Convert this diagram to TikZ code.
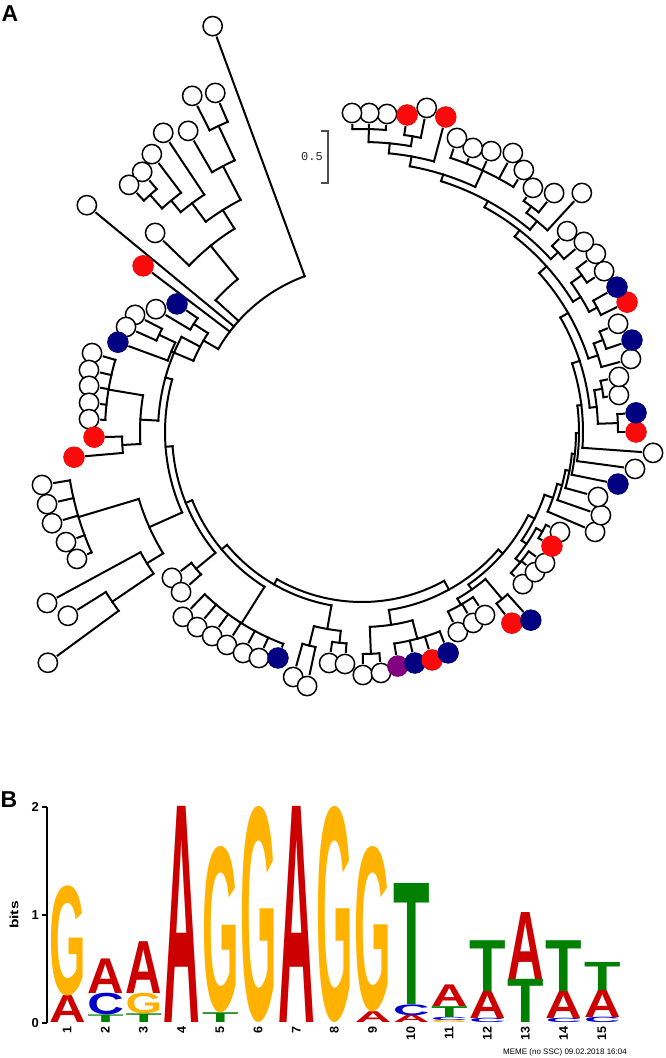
\documentclass[tikz,border=0pt]{standalone}
\usepackage{fontspec}
\setsansfont{Liberation Sans}
\setmonofont{Liberation Mono}
\newfontfamily\logofont{Liberation Sans}

\definecolor{tipred}{RGB}{250,10,10}
\definecolor{tipblue}{RGB}{0,0,128}
\definecolor{tippurple}{RGB}{128,0,128}
\definecolor{baseA}{RGB}{204,0,0}
\definecolor{baseC}{RGB}{0,0,204}
\definecolor{baseG}{RGB}{255,179,0}
\definecolor{baseT}{RGB}{0,128,0}

\tikzset{
  tip/.style={circle, draw=black, fill=white, line width=1.5pt, minimum size=19.3pt, inner sep=0pt, outer sep=2.5pt},
  branch/.style={line width=2pt, line cap=rect},
  panel/.style={font=\sffamily\bfseries\fontsize{23}{23}\selectfont, inner sep=0pt},
  numlbl/.style={rotate=90, anchor=east, inner sep=0pt, font=\sffamily\bfseries\fontsize{12.5}{12.5}\selectfont},
  ticklbl/.style={anchor=east, inner sep=0pt, font=\sffamily\bfseries\fontsize{13}{13}\selectfont},
}

\begin{document}
\begin{tikzpicture}[x=1pt,y=1pt]
\useasboundingbox (0,0) rectangle (666,-1058);

\node[panel] (labA) at (10,-14) {A};

% scale bar
\draw[gray!60!black, line width=1.2pt] (321,-131) -- (328,-131) -- (328,-183) -- (321,-183);
\node[font=\ttfamily\fontsize{12}{12}\selectfont, text=black!85] (scalelbl) at (312,-157) {0.5};

% tree, centred on the root
\begin{scope}[shift={(362,-432)}]

% tips: angle / radius / where the branch stops
\foreach \a/\r/\p [count=\i] in {
  110.2/432.5/166, 113.4/369.5/338, 116.8/376.6/338, 120.0/347.7/300, 123.6/359.2/285,
  127.1/348.4/300, 130.2/340.6/318, 133.3/339.6/318, 136.1/287.1/240, 140.5/356.6/166,
  142.8/274.8/166, 145.3/225.0/200, 149.2/239.9/200, 152.7/255.4/225, 156.0/258.3/225,
  159.8/260.1/207, 163.7/281.3/257, 167.2/280.0/257, 170.4/276.8/257, 173.9/274.5/257,
  177.3/273.3/257, 181.1/268.0/240, 185.0/289.1/240, 189.4/324.4/296, 192.9/323.1/296,
  196.4/323.1/296, 200.4/315.8/296, 204.0/312.0/296, 208.5/358.4/252, 212.0/346.8/302,
  216.3/389.8/302, 217.5/239.6/215, 221.5/241.6/215, 225.9/257.4/226, 229.8/255.4/226,
  233.7/253.2/226, 237.6/252.2/226, 241.7/251.0/226, 245.5/248.4/226, 249.6/241.1/226,
  254.3/254.5/220, 257.8/259.9/220, 261.9/233.3/212, 265.8/232.6/212, 270.2/243.0/222,
  274.5/241.7/222, 278.7/236.8/214, 282.9/237.0/214, 287.1/238.5/214, 291.3/237.1/214,
  295.6/221.8/199, 300.2/220.9/199, 303.9/220.5/199, 308.1/242.9/218, 311.9/252.8/218,
  316.6/221.4/205, 321.0/222.6/205, 324.4/225.1/205, 329.0/221.6/206, 333.2/221.8/206,
  336.8/253.6/202, 340.8/253.0/207, 344.6/244.8/211, 348.5/261.2/214, 352.3/275.5/217,
  355.9/291.8/221, 360.0/274.0/256, 364.0/274.7/256, 368.2/259.6/244, 372.1/262.8/244,
  375.2/278.7/248, 378.8/285.2/258, 382.9/278.0/258, 386.1/295.2/266, 389.6/293.3/266,
  393.6/290.7/270, 397.3/294.0/270, 400.6/292.2/266, 404.4/287.1/266, 407.4/324.8/274,
  411.2/306.6/282, 415.0/298.0/282, 418.3/308.0/288, 421.6/317.2/288, 425.3/309.2/288,
  428.7/304.9/288, 432.1/309.0/288, 435.1/326.0/280, 438.7/330.5/300, 441.9/320.2/300,
  445.5/319.0/303, 448.7/319.1/303, 451.8/319.2/303}
{
  \node[tip] (t\i) at (\a:\r) {};
  \draw[branch] (t\i) -- (\a:\p);
}

% coloured tips
\foreach \i/\c in {11/tipred, 12/tipblue, 16/tipblue, 22/tipred, 23/tipred, 40/tipblue,
  47/tippurple, 48/tipblue, 49/tipred, 50/tipblue, 54/tipred, 55/tipblue, 59/tipred,
  64/tipblue, 67/tipred, 68/tipblue, 72/tipblue, 74/tipred, 75/tipblue, 88/tipred, 90/tipred}
  \fill[fill=\c] (t\i) circle[radius=10.7];

% arcs: start / end / radius
\foreach \s/\e/\r in {
  110.2/150/166, 113.4/116.8/338, 115.1/120/300, 130.2/133.3/318, 127.1/131.8/300,
  123.6/129.5/285, 117.6/126.6/262, 122.1/136.1/240, 129.1/138/197,
  145.3/149.2/200, 152.7/156/225, 154.4/159.8/207, 147.3/157.1/183,
  163.7/177.3/257, 181.1/185/240, 170.5/183.1/222,
  189.4/204/296, 212/216.3/302, 208.5/214.2/252, 196.7/211.4/233,
  217.5/221.5/215, 225.9/249.6/226, 254.3/257.8/220, 261.9/265.8/212, 256.1/263.9/200,
  270.2/274.5/222, 278.7/291.3/214, 272.3/285/195,
  295.6/303.9/199, 308.1/311.9/218, 299.8/310/192,
  316.6/324.4/205, 329/333.2/206, 320.5/331.1/199,
  360/364/256, 368.2/372.1/244, 362/370.2/236, 378.8/382.9/258, 375.2/380.9/248,
  386.1/389.6/266, 393.6/397.3/270, 387.9/395.5/257, 400.6/404.4/266,
  411.2/415/282, 407.4/413.1/274, 418.3/432.1/288,
  438.7/441.9/300, 445.5/451.8/303, 440.3/448.7/290, 435.1/444.5/280,
  425.2/439.8/270, 410.3/432.5/263, 402.5/421.4/256, 391.7/412/248, 378/401.9/238,
  366.1/390/229, 355.9/378.1/221, 352.3/367/217, 348.5/359.7/214, 344.6/354.1/211,
  340.8/349.4/207, 336.8/345.1/202, 325.8/341/193, 304.9/333.4/186, 278.6/319.2/180,
  240/298.9/170,
  219.9/260/176, 201.9/237.8/183, 184.3/219.5/190, 164.5/204.1/197, 152.2/176.8/204}
  \draw[branch] (\s:\r) arc[start angle=\s, end angle=\e, radius=\r];

% stems: angle / from / to
\foreach \a/\r/\q in {
  115.1/338/300, 117.6/300/262, 131.8/318/300, 129.5/300/285, 126.6/285/262,
  122.1/262/240, 129.1/240/197, 138/197/166, 150/166/183,
  147.3/200/183, 154.4/225/207, 157.1/207/183, 152.2/183/204,
  170.5/257/222, 183.1/240/222, 176.8/222/204,
  196.7/296/233, 214.2/302/252, 211.4/252/233, 204.1/233/197,
  219.5/215/190, 237.8/226/183, 256.1/220/200, 263.9/212/200, 260/200/176,
  240/176/170, 219.9/183/176, 201.9/190/183, 184.3/197/190, 164.5/204/197,
  272.3/222/195, 285/214/195, 278.6/195/180,
  299.8/199/192, 310/218/192, 304.9/192/186,
  320.5/205/199, 331.1/206/199, 325.8/199/193,
  298.9/180/170, 319.2/186/180, 333.4/193/186, 341/202/193, 345.1/207/202,
  349.4/211/207, 354.1/214/211, 359.7/217/214, 367/221/217, 378.1/229/221,
  390/238/229, 401.9/248/238, 412/256/248, 421.4/263/256, 432.5/270/263,
  362/256/236, 370.2/244/236, 366.1/236/229, 380.9/258/248, 378/248/238,
  387.9/266/257, 395.5/270/257, 391.7/257/248, 402.5/266/256,
  413.1/282/274, 410.3/274/263, 425.2/288/270,
  440.3/300/290, 448.7/303/290, 444.5/290/280, 439.8/280/270}
  \draw[branch] (\a:\r) -- (\a:\q);

\end{scope}

% sequence logo
\node[panel] (labB) at (9,-800) {B};

\draw[line width=1.2pt] (47,-807) -- (47,-1023);
\foreach \v in {0,1,2}
{
  \draw[line width=1.2pt] (42,{-1023+108*\v}) -- (47,{-1023+108*\v});
  \node[ticklbl] (y\v) at (39,{-1023+108*\v}) {\v};
}
\node[rotate=90, inner sep=0pt, font=\sffamily\bfseries\fontsize{12}{12}\selectfont] (bits) at (14,-915) {\scalebox{1.3}[1]{bits}};

\foreach \col/\lo/\hi/\ch/\cc in {
  1/0/0.25/A/baseA, 1/0.25/1.27/G/baseG,
  2/0/0.07/T/baseT, 2/0.07/0.27/C/baseC, 2/0.27/0.59/A/baseA,
  3/0/0.08/T/baseT, 3/0.08/0.27/G/baseG, 3/0.27/0.75/A/baseA,
  4/0/2/A/baseA,
  5/0/0.09/T/baseT, 5/0.09/1.63/G/baseG,
  6/0/2/G/baseG,
  7/0/2/A/baseA,
  8/0/2/G/baseG,
  9/0/0.1/A/baseA, 9/0.1/1.63/G/baseG,
  10/0/0.07/A/baseA, 10/0.07/0.17/C/baseC, 10/0.17/1.29/T/baseT,
  11/0/0.02/G/baseG, 11/0.02/0.05/C/baseC, 11/0.05/0.15/T/baseT, 11/0.15/0.35/A/baseA,
  12/0/0.04/C/baseC, 12/0.04/0.29/A/baseA, 12/0.29/0.76/T/baseT,
  13/0/0.4/T/baseT, 13/0.4/1.02/A/baseA,
  14/0/0.04/C/baseC, 14/0.04/0.29/A/baseA, 14/0.29/0.76/T/baseT,
  15/0/0.05/C/baseC, 15/0.05/0.3/A/baseA, 15/0.3/0.56/T/baseT}
{
  \pgfmathsetmacro\xl{49+38.2*(\col-1)}
  \pgfmathsetmacro\yb{-1023+108*\lo}
  \pgfmathsetmacro\hh{108*(\hi-\lo)}
  \node[anchor=south west, inner sep=0pt, text=\cc] (s\col\ch) at (\xl,\yb)
    {\resizebox*{36.5pt}{\hh pt}{\logofont\bfseries \ch}};
}

\foreach \col in {1,...,15}
{
  \pgfmathsetmacro\xc{67+38.2*(\col-1)}
  \node[numlbl] (n\col) at (\xc,-1026) {\col};
}

\node[inner sep=0pt, font=\sffamily\fontsize{8}{8}\selectfont] (stamp) at (565,-1052) {MEME (no SSC) 09.02.2018 16:04};

\end{tikzpicture}
\end{document}
